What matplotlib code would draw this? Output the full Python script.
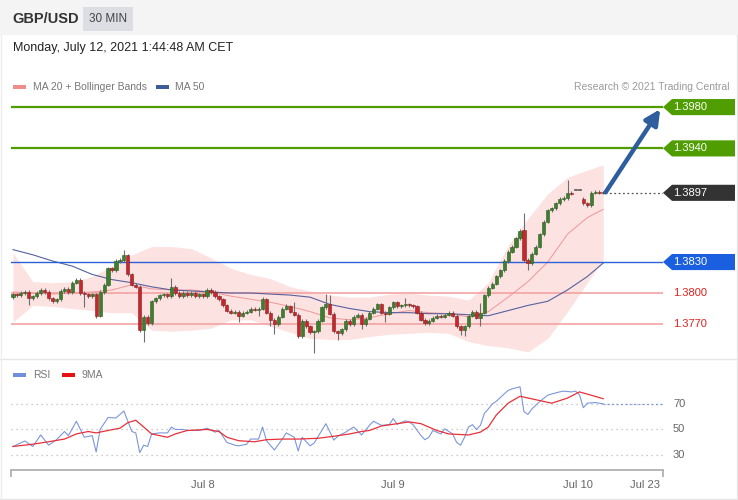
import numpy as np
import matplotlib.pyplot as plt
from matplotlib.patches import Polygon, Rectangle
from matplotlib.transforms import blended_transform_factory

plt.rcParams['font.family'] = ['Liberation Sans', 'DejaVu Sans']

# ---- candles (30 min) ----
closes = [
    1.3799, 1.3798, 1.3800, 1.3801, 1.3795, 1.3797, 1.3800, 1.3803, 1.3801, 1.3795,
    1.3792, 1.3794, 1.3802, 1.3804, 1.3801, 1.3810, 1.3813, 1.3800, 1.3799, 1.3797,
    1.3799, 1.3778, 1.3801, 1.3808, 1.3824, 1.3822, 1.3831, 1.3832, 1.3837, 1.3818,
    1.3808, 1.3806, 1.3764, 1.3777, 1.3771, 1.3792, 1.3795, 1.3798, 1.3799, 1.3797,
    1.3806, 1.3800, 1.3797, 1.3800, 1.3798, 1.3800, 1.3797, 1.3799, 1.3797, 1.3803,
    1.3801, 1.3797, 1.3794, 1.3788, 1.3783, 1.3781, 1.3782, 1.3778, 1.3781, 1.3782,
    1.3785, 1.3784, 1.3785, 1.3794, 1.3781, 1.3774, 1.3770, 1.3777, 1.3785, 1.3787,
    1.3782, 1.3779, 1.3758, 1.3773, 1.3768, 1.3762, 1.3763, 1.3773, 1.3786, 1.3789,
    1.3780, 1.3763, 1.3761, 1.3765, 1.3773, 1.3770, 1.3777, 1.3779, 1.3770, 1.3775,
    1.3781, 1.3785, 1.3789, 1.3781, 1.3780, 1.3786, 1.3791, 1.3787, 1.3788, 1.3789,
    1.3788, 1.3787, 1.3781, 1.3774, 1.3771, 1.3773, 1.3776, 1.3778, 1.3777, 1.3779,
    1.3781, 1.3778, 1.3768, 1.3764, 1.3768, 1.3778, 1.3782, 1.3776, 1.3781, 1.3798,
    1.3805, 1.3809, 1.3816, 1.3822, 1.3831, 1.3840, 1.3845, 1.3853, 1.3860, 1.3832,
    1.3829, 1.3838, 1.3845, 1.3857, 1.3869, 1.3880, 1.3882, 1.3887, 1.3891, 1.3892,
    1.3897, 1.3896, 1.3900, 1.3900, 1.3887, 1.3885, 1.3897, 1.3898, 1.3897, 1.3897,
]
first_open = 1.3796
open_marks = {129: 1.3861, 142: 1.3900, 143: 1.3900, 144: 1.3891}
high_marks = {4: 1.3803, 17: 1.3815, 28: 1.3842, 29: 1.3838, 40: 1.3815, 63: 1.3796,
              69: 1.3789, 71: 1.3791, 79: 1.3799, 80: 1.3798, 99: 1.3795, 118: 1.3790,
              129: 1.3877, 140: 1.3909, 142: 1.3900, 143: 1.3900, 147: 1.3900}
low_marks = {4: 1.3788, 18: 1.3786, 21: 1.3776, 32: 1.3762, 33: 1.3753, 57: 1.3772,
             62: 1.3778, 65: 1.3768, 66: 1.3760, 72: 1.3756, 76: 1.3742, 82: 1.3755,
             88: 1.3765, 94: 1.3772, 113: 1.3759, 114: 1.3758, 118: 1.3768, 129: 1.3830,
             130: 1.3822, 142: 1.3900, 143: 1.3900}

# ---- indicators, sampled every 5 candles ----
band_idx = list(range(0, 150, 5)) + [149]
bb_upper = [1.3839, 1.3811, 1.3810, 1.3811, 1.3816, 1.3826, 1.3837, 1.3845, 1.3845, 1.3843,
            1.3834, 1.3824, 1.3818, 1.3814, 1.3806, 1.3802, 1.3798, 1.3796, 1.3796, 1.3799,
            1.3800, 1.3798, 1.3797, 1.3793, 1.3810, 1.3846, 1.3872, 1.3896, 1.3912, 1.3919,
            1.3924]
bb_lower = [1.3772, 1.3788, 1.3787, 1.3785, 1.3783, 1.3781, 1.3781, 1.3764, 1.3763, 1.3764,
            1.3766, 1.3774, 1.3774, 1.3768, 1.3762, 1.3756, 1.3755, 1.3755, 1.3758, 1.3760,
            1.3761, 1.3762, 1.3761, 1.3753, 1.3749, 1.3747, 1.3743, 1.3756, 1.3782, 1.3810,
            1.3832]
ma20 = [1.3801, 1.3800, 1.3799, 1.3800, 1.3801, 1.3803, 1.3808, 1.3804, 1.3803, 1.3803,
        1.3801, 1.3797, 1.3794, 1.3791, 1.3787, 1.3782, 1.3776, 1.3774, 1.3776, 1.3780,
        1.3783, 1.3781, 1.3780, 1.3777, 1.3782, 1.3796, 1.3811, 1.3830, 1.3857, 1.3873,
        1.3881]
ma50 = [1.3842, 1.3837, 1.3831, 1.3826, 1.3818, 1.3813, 1.3810, 1.3806, 1.3803, 1.3802,
        1.3801, 1.3800, 1.3800, 1.3799, 1.3798, 1.3796, 1.3789, 1.3785, 1.3782, 1.3781,
        1.3781, 1.3780, 1.3780, 1.3779, 1.3778, 1.3783, 1.3788, 1.3792, 1.3803, 1.3816,
        1.3829]

# ---- RSI panel ----
rsi_points = [(0, 36.7), (3, 41), (5, 36.7), (7, 45.7), (9, 37.7), (11, 42), (13, 48.4),
              (14, 45.2), (16, 56.4), (18, 43.9), (20, 45.2), (21, 32.4), (22, 50), (24, 59.3),
              (26, 59), (28, 64.4), (30, 48.4), (31, 47.3), (32, 31.9), (33, 37.7), (34, 36.7),
              (35, 46.5), (37, 47.3), (39, 47.3), (40, 51.9), (41, 50), (43, 50), (44, 49.2),
              (47, 49.2), (49, 51), (51, 47.9), (52, 49.2), (54, 39.9), (56, 37.7), (57, 37.2),
              (59, 38.5), (60, 42.5), (62, 42.5), (63, 51.9), (64, 41.2), (66, 34), (68, 42.5),
              (69, 47.3), (71, 43.9), (72, 33.2), (73, 43.9), (75, 37.2), (76, 39.3), (79, 54.5),
              (81, 41.7), (82, 44.7), (84, 47.9), (86, 51.9), (88, 45.7), (90, 53.2), (91, 56.4),
              (93, 53.2), (95, 53.7), (96, 58.5), (97, 54), (99, 56.7), (100, 55.9), (101, 53.7),
              (103, 45.2), (104, 42), (105, 43.9), (106, 49.2), (108, 46.5), (109, 50.5),
              (111, 46.5), (112, 39.9), (113, 37.7), (114, 43.9), (115, 51.9), (116, 53.7),
              (117, 50), (118, 53.2), (119, 62.5), (120, 66), (121, 70), (122, 71.9), (124, 77.7),
              (125, 80.4), (126, 81.7), (128, 83.3), (129, 63.9), (130, 61.7), (131, 66),
              (133, 71.9), (135, 76.7), (136, 77.7), (138, 79.3), (139, 79.9), (141, 79.3),
              (142, 79.9), (143, 77.2), (144, 67), (145, 70.5), (147, 71), (149, 70)]
ma9_points = [(0, 36.7), (5, 38.5), (9, 40.4), (13, 42.5), (16, 46.5), (19, 48.4), (21, 47.3),
              (24, 49.2), (27, 51), (29, 55.3), (31, 57.2), (33, 51.9), (35, 46.5), (39, 43.9),
              (41, 46.5), (44, 49.2), (49, 50), (52, 48.4), (54, 43.9), (57, 41.2), (61, 40.4),
              (64, 42), (68, 42.5), (72, 42.5), (77, 43.1), (81, 44.7), (85, 46.5), (88, 48.4),
              (90, 49.2), (93, 52.7), (97, 54.5), (100, 55.9), (103, 54.5), (107, 49.2),
              (110, 46.5), (115, 45.7), (118, 47.9), (120, 51.9), (122, 61.2), (125, 70.5),
              (128, 75.9), (132, 73.2), (136, 70.5), (140, 74.5), (143, 79.3), (146, 76.7),
              (149, 74)]
rsi_levels = [70, 50, 30]

resistances = [1.3980, 1.3940]
pivot = 1.3830
supports = [1.3800, 1.3770]
last_price = 1.3897
target = 1.3978

date_pos = [48, 96, 142.7, 159.6]
date_labels = ['Jul 8', 'Jul 9', 'Jul 10', 'Jul 23']

# ---- build OHLC ----
n = len(closes)
idx = np.arange(n)
opens = [first_open] + closes[:-1]
for k, v in open_marks.items():
    opens[k] = v
opens = np.array(opens)
closes = np.array(closes)
highs = np.maximum(opens, closes) + 0.00015
lows = np.minimum(opens, closes) - 0.00015
for k, v in high_marks.items():
    highs[k] = v
for k, v in low_marks.items():
    lows[k] = v

GREEN = '#3d7f2e'
RED = '#c4282c'
face = [GREEN if c > o else (RED if c < o else '#555555') for o, c in zip(opens, closes)]
edge = ['#2a5c20' if c > o else ('#8e1c1f' if c < o else '#444444') for o, c in zip(opens, closes)]
body_lo = np.minimum(opens, closes)
body_h = np.maximum(np.abs(closes - opens), 0.00008)

W, H = 738, 500
fig = plt.figure(figsize=(W / 100, H / 100), dpi=100)
fig.patch.set_facecolor('white')

def box(x0, y0, x1, y1):
    return [x0 / W, 1 - y1 / H, (x1 - x0) / W, (y1 - y0) / H]

bg = fig.add_axes([0, 0, 1, 1], zorder=0)
bg.set_xlim(0, W)
bg.set_ylim(H, 0)
bg.axis('off')

ax = fig.add_axes(box(11, 95, 663, 358), zorder=1)
ax2 = fig.add_axes(box(11, 370, 663, 470), zorder=1)
fg = fig.add_axes([0, 0, 1, 1], zorder=2)
fg.set_xlim(0, W)
fg.set_ylim(H, 0)
fg.axis('off')
fg.patch.set_alpha(0)

# header and frame
bg.add_patch(Rectangle((0, 0), W, 35, color='#f4f4f4', lw=0))
bg.add_patch(Rectangle((83, 7), 50, 24, color='#dcdee3', lw=0))
bg.text(12, 19, 'GBP/USD', fontsize=10.5, fontweight='bold', color='#333333', va='center')
bg.text(108, 19, '30 MIN', fontsize=8.5, color='#444444', va='center', ha='center')
bg.text(13, 48, 'Monday, July 12, 2021 1:44:48 AM CET', fontsize=9, color='#222222', va='center')
bg.plot([0, W], [359, 359], color='#e6e6e6', lw=1)
bg.plot([0, W], [498.5, 498.5], color='#e6e6e6', lw=1)
bg.plot([737, 737], [35, 500], color='#e6e6e6', lw=1)
bg.plot([0.5, 0.5], [35, 500], color='#eeeeee', lw=1)

# legends
bg.add_patch(Rectangle((13, 84.5), 13, 4, color='#f08c8c', lw=0))
bg.text(33, 86.5, 'MA 20 + Bollinger Bands', fontsize=7.5, color='#777777', va='center')
bg.add_patch(Rectangle((156, 84.5), 13, 4, color='#3d5c9c', lw=0))
bg.text(175, 86.5, 'MA 50', fontsize=7.5, color='#777777', va='center')
bg.text(729, 86.5, 'Research \u00a9 2021 Trading Central', fontsize=7.5, color='#9a9a9a',
        va='center', ha='right')
bg.add_patch(Rectangle((13, 372.5), 13, 4, color='#6f8fdc', lw=0))
bg.text(33, 374.5, 'RSI', fontsize=7.5, color='#777777', va='center')
bg.add_patch(Rectangle((62, 372.5), 13, 4, color='#e81010', lw=0))
bg.text(82, 374.5, '9MA', fontsize=7.5, color='#777777', va='center')

# ---- main price panel ----
ax.set_facecolor('none')
ax.set_xlim(-0.5, 164.1)
ax.set_ylim(1.37371, 1.39917)
ax.axis('off')

ax.fill_between(band_idx, bb_lower, bb_upper, color='#fde2e2', lw=0, zorder=1)
ax.plot(band_idx, ma20, color='#f09696', lw=0.7, zorder=2)
ax.plot(band_idx, ma50, color='#56629e', lw=0.8, zorder=2)

for r in resistances:
    ax.axhline(r, color='#4f9d00', lw=1.6, zorder=3)
ax.axhline(pivot, color='#2a62d6', lw=1.0, zorder=3)
for s in supports:
    ax.axhline(s, color='#f3a3a3', lw=1.2, zorder=1.5)

ax.vlines(idx, lows, highs, color='#6e6e6e', lw=0.8, zorder=4)
ax.bar(idx, body_h, bottom=body_lo, width=0.8, color=face, edgecolor=edge, lw=0.4, zorder=5)

ax.plot([149.5, 164.1], [last_price, last_price], ls=(0, (1.5, 2)), color='#555555', lw=0.9,
        zorder=3)
ax.annotate('', xy=(163.4, target), xytext=(149.6, last_price + 0.00005),
            arrowprops=dict(arrowstyle='-|>,head_length=0.9,head_width=0.45', color='#2e5e9e',
                            lw=3.2, shrinkA=0, shrinkB=0),
            annotation_clip=False, zorder=6)

# price tags on the right
trans = blended_transform_factory(fg.transData, ax.transData)
hh = 0.00078

def tag(p, fc):
    verts = [(663, p), (672, p + hh), (735, p + hh), (735, p - hh), (672, p - hh)]
    fg.add_patch(Polygon(verts, closed=True, transform=trans, fc=fc, ec='none', clip_on=False))
    fg.text(673, p, f'{p:.4f}', transform=trans, color='white', fontsize=8, va='center')

for r in resistances:
    tag(r, '#4f9d00')
tag(last_price, '#333333')
tag(pivot, '#1a5fe0')
for s in supports:
    fg.text(673, s, f'{s:.4f}', transform=trans, color='#e0201c', fontsize=8, va='center')

# ---- RSI panel ----
ax2.set_facecolor('none')
ax2.set_xlim(-0.5, 164.1)
ax2.set_ylim(18.35, 96.4)
for sp in ['top', 'left', 'right']:
    ax2.spines[sp].set_visible(False)
ax2.spines['bottom'].set_color('#aaaaaa')
ax2.spines['bottom'].set_linewidth(1.2)
ax2.set_yticks([])
for lv in rsi_levels:
    ax2.axhline(lv, color='#bbbbbb', lw=0.9, ls=(0, (1, 3)))
rsi_idx, rsi_val = zip(*rsi_points)
ma9_idx, ma9_val = zip(*ma9_points)
ax2.plot(rsi_idx, rsi_val, color='#7b97da', lw=0.8)
ax2.plot(ma9_idx, ma9_val, color='#e8303a', lw=0.9)
ax2.plot([rsi_idx[-1], 164.1], [rsi_val[-1], rsi_val[-1]], color='#7b97da', lw=0.9,
         ls=(0, (1.5, 2)))
ax2.set_xticks(date_pos)
ax2.set_xticklabels(date_labels, fontsize=8, color='#666666')
ax2.tick_params(axis='x', length=0, pad=7)
ax2.set_xticks([-0.5, 164.1], minor=True)
ax2.tick_params(axis='x', which='minor', length=5, color='#aaaaaa', width=1.2)

trans2 = blended_transform_factory(fg.transData, ax2.transData)
for lv in rsi_levels:
    fg.text(673, lv, str(lv), transform=trans2, color='#666666', fontsize=8, va='center')

fig.savefig('out.png', dpi=100)
